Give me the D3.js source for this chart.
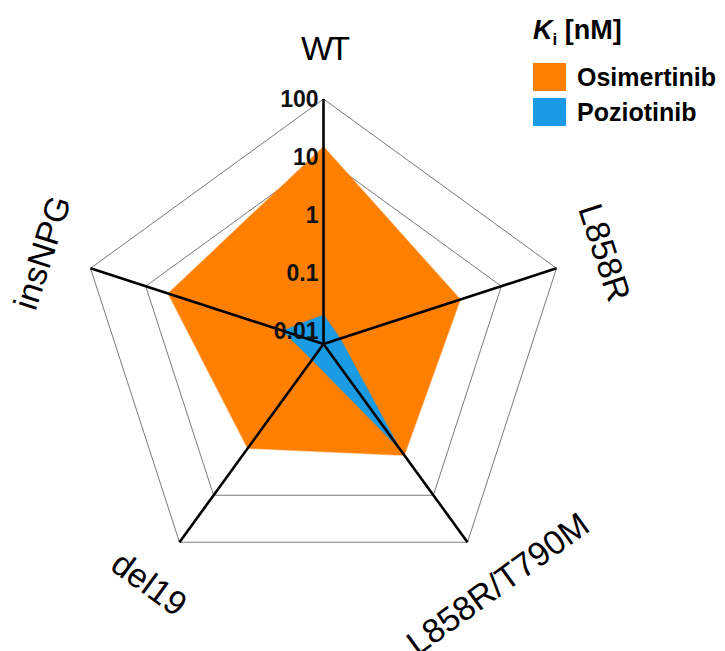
<!DOCTYPE html>
<html>
<head>
<meta charset="utf-8">
<script src="https://cdn.jsdelivr.net/npm/d3@7"></script>
<style>
  html, body { margin: 0; padding: 0; background: #fff; }
  svg { display: block; font-family: "Liberation Sans", Arial, sans-serif; }
</style>
</head>
<body>
<svg id="chart" width="725" height="651"></svg>
<script>
// EGFR variants (radar axes, clockwise from top)
const variants = ["WT", "L858R", "L858R/T790M", "del19", "insNPG"];
// Ki in nM
const osimertinib = [15, 1.8, 1.4, 1.0, 3.9];
const poziotinib  = [0.019, 0.012, 1.05, 0.013, 0.033];
const tickValues  = [100, 10, 1, 0.1, 0.01];
const tickLabels  = ["100", "10", "1", "0.1", "0.01"];
const ringValues  = [100, 10];
const seriesNames = ["Osimertinib", "Poziotinib"];
const seriesColors = ["#FF7F00", "#1A9BE3"];

const svg = d3.select("#chart");
const cx = 323.5, cy = 344, R = 245;

const r = d3.scaleLog().domain([0.006, 100]).range([0, R]);
const angle = d3.scalePoint().domain(variants).range([0, 2 * Math.PI * 4 / 5]);

const pt = (name, rad) => {
  const a = angle(name);
  return [cx + rad * Math.sin(a), cy - rad * Math.cos(a)];
};

const g = svg.append("g");

// pentagonal grid rings
g.selectAll("polygon.ring").data(ringValues).join("polygon")
  .attr("class", "ring")
  .attr("points", v => variants.map(n => pt(n, r(v)).join(",")).join(" "))
  .attr("fill", "none")
  .attr("stroke", "#7a7a7a")
  .attr("stroke-width", 1);

// series polygons
const series = [osimertinib, poziotinib];
g.selectAll("polygon.series").data(series).join("polygon")
  .attr("class", "series")
  .attr("points", vals => vals.map((v, i) => pt(variants[i], r(v)).join(",")).join(" "))
  .attr("fill", (d, i) => seriesColors[i])
  .attr("stroke", (d, i) => seriesColors[i])
  .attr("stroke-opacity", 0.45)
  .attr("stroke-width", 1.5)
  .attr("stroke-linejoin", "round");

// spokes
g.selectAll("line.spoke").data(variants).join("line")
  .attr("class", "spoke")
  .attr("x1", cx).attr("y1", cy)
  .attr("x2", n => pt(n, R)[0])
  .attr("y2", n => pt(n, R)[1])
  .attr("stroke", "#000")
  .attr("stroke-width", 2.6);

// log ticks on the WT spoke
g.selectAll("text.tick").data(tickValues).join("text")
  .attr("class", "tick")
  .attr("x", cx - 5)
  .attr("y", v => cy - r(v))
  .attr("text-anchor", "end")
  .attr("dominant-baseline", "central")
  .attr("font-size", 23)
  .attr("font-weight", "bold")
  .attr("fill", "#111")
  .text((v, i) => tickLabels[i]);

// variant labels, rotated tangentially
const labelR = 296;
g.selectAll("text.axis-label").data(variants).join("text")
  .attr("class", "axis-label")
  .attr("text-anchor", "middle")
  .attr("dominant-baseline", "central")
  .attr("font-size", 34)
  .attr("letter-spacing", n => n === "WT" ? -4 : 0)
  .attr("transform", n => {
    const [x, y] = pt(n, labelR);
    let deg = angle(n) * 180 / Math.PI;
    if (deg > 90 && deg < 270) deg -= 180;
    if (deg >= 270) deg -= 360;
    return `translate(${x},${y}) rotate(${deg})`;
  })
  .text(n => n);

// legend
const lg = svg.append("g").attr("transform", "translate(533,0)");
const title = lg.append("text")
  .attr("x", 0).attr("y", 39)
  .attr("font-size", 27).attr("font-weight", "bold");
title.append("tspan").attr("font-style", "italic").text("K");
title.append("tspan").attr("font-size", 17).attr("dy", 6).text("i");
title.append("tspan").attr("dy", -6).text(" [nM]");

const items = lg.selectAll("g.item").data(seriesNames).join("g")
  .attr("class", "item")
  .attr("transform", (d, i) => `translate(0,${63 + i * 35})`);
items.append("rect")
  .attr("width", 33).attr("height", 28)
  .attr("fill", (d, i) => seriesColors[i]);
items.append("text")
  .attr("x", 44).attr("y", 14)
  .attr("dominant-baseline", "central")
  .attr("font-size", 25).attr("font-weight", "bold")
  .text(d => d);
</script>
</body>
</html>
